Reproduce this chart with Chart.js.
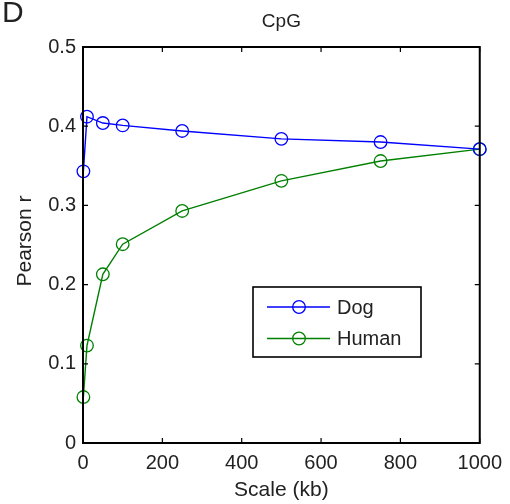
<!DOCTYPE html>
<html>
<head>
<meta charset="utf-8">
<script src="https://cdn.jsdelivr.net/npm/chart.js@4/dist/chart.umd.min.js"></script>
<style>
  html, body { margin: 0; padding: 0; background: #fff; }
  #wrap { width: 510px; height: 504px; position: relative; }
</style>
</head>
<body>
<div id="wrap"><canvas id="chart"></canvas></div>
<script>
// values
const scaleKb = [1, 10, 50, 100, 250, 500, 750, 1000];
const dogR    = [0.343, 0.412, 0.404, 0.401, 0.394, 0.384, 0.380, 0.371];
const humanR  = [0.058, 0.123, 0.213, 0.251, 0.293, 0.331, 0.356, 0.371];
const xTicks  = [0, 200, 400, 600, 800, 1000];
const yTicks  = [0, 0.1, 0.2, 0.3, 0.4, 0.5];

const FONT = 'Liberation Sans, Arial, Helvetica, sans-serif';
const TXT = '#222';

// MATLAB-like frame: box, inward ticks, titles, in-axes legend
const matlabFrame = {
    id: 'matlabFrame',
    afterDraw(chart) {
        const { ctx, chartArea: a, scales: { x, y } } = chart;
        ctx.save();
        ctx.strokeStyle = '#000';
        ctx.lineWidth = 2;
        ctx.beginPath();
        ctx.rect(a.left, a.top, a.right - a.left, a.bottom - a.top);
        ctx.stroke();

        ctx.lineWidth = 1.2;
        ctx.beginPath();
        xTicks.forEach(v => {
            const px = x.getPixelForValue(v);
            ctx.moveTo(px, a.bottom); ctx.lineTo(px, a.bottom - 5);
            ctx.moveTo(px, a.top);    ctx.lineTo(px, a.top + 5);
        });
        yTicks.forEach(v => {
            const py = y.getPixelForValue(v);
            ctx.moveTo(a.left, py);  ctx.lineTo(a.left + 5, py);
            ctx.moveTo(a.right, py); ctx.lineTo(a.right - 5, py);
        });
        ctx.stroke();

        ctx.fillStyle = TXT;
        ctx.textAlign = 'center';
        ctx.textBaseline = 'middle';
        ctx.font = '19px ' + FONT;
        ctx.fillText('CpG', (a.left + a.right) / 2, 22);
        ctx.font = '21px ' + FONT;
        ctx.fillText('Scale (kb)', (a.left + a.right) / 2, 490);
        ctx.save();
        ctx.translate(25, 241);
        ctx.rotate(-Math.PI / 2);
        ctx.fillText('Pearson r', 0, 0);
        ctx.restore();

        ctx.textAlign = 'left';
        ctx.font = '30px ' + FONT;
        ctx.fillText('D', 2, 14);

        // legend
        const lx = 253, ly = 287, lw = 168, lh = 70;
        ctx.fillStyle = '#fff';
        ctx.fillRect(lx, ly, lw, lh);
        ctx.strokeStyle = '#000';
        ctx.lineWidth = 1.6;
        ctx.strokeRect(lx, ly, lw, lh);
        chart.data.datasets.forEach((ds, i) => {
            const cy = ly + 20 + i * 31.5;
            ctx.strokeStyle = ds.borderColor;
            ctx.lineWidth = ds.borderWidth;
            ctx.beginPath();
            ctx.moveTo(lx + 14, cy); ctx.lineTo(lx + 77, cy);
            ctx.stroke();
            ctx.lineWidth = ds.pointBorderWidth;
            ctx.beginPath();
            ctx.arc(lx + 46, cy, ds.pointRadius, 0, Math.PI * 2);
            ctx.stroke();
            ctx.fillStyle = TXT;
            ctx.font = '20px ' + FONT;
            ctx.fillText(ds.label, lx + 84, cy + 1);
        });
        ctx.restore();
    }
};

function series(label, values, color) {
    return {
        label,
        data: scaleKb.map((s, i) => ({ x: s, y: values[i] })),
        borderColor: color,
        borderWidth: 1.4,
        pointRadius: 6.3,
        pointHoverRadius: 6.3,
        pointBorderWidth: 1.3,
        pointBorderColor: color,
        pointBackgroundColor: 'rgba(0,0,0,0)',
        clip: false,
        tension: 0,
    };
}

new Chart(document.getElementById('chart'), {
    type: 'line',
    data: {
        datasets: [
            series('Dog', dogR, '#0000ff'),
            series('Human', humanR, '#008000'),
        ],
    },
    options: {
        responsive: true,
        maintainAspectRatio: false,
        animation: false,
        events: [],
        layout: { padding: { left: 0, right: 29, top: 47, bottom: 0 } },
        plugins: {
            legend: { display: false },
            tooltip: { enabled: false },
        },
        scales: {
            x: {
                type: 'linear',
                min: 0, max: 1000,
                afterBuildTicks: s => { s.ticks = xTicks.map(v => ({ value: v })); },
                afterFit: s => { s.height = 61; },
                grid: { display: false, drawTicks: false },
                border: { display: false },
                ticks: {
                    color: TXT, font: { family: FONT, size: 20 }, padding: 8, maxRotation: 0,
                    callback: v => String(v),
                },
            },
            y: {
                type: 'linear',
                min: 0, max: 0.5,
                afterBuildTicks: s => { s.ticks = yTicks.map(v => ({ value: v })); },
                afterFit: s => { s.width = 83; },
                grid: { display: false, drawTicks: false },
                border: { display: false },
                ticks: {
                    color: TXT, font: { family: FONT, size: 20 }, padding: 7,
                    callback: v => v === 0 ? '0' : v.toFixed(1),
                },
            },
        },
    },
    plugins: [matlabFrame],
});
</script>
</body>
</html>
